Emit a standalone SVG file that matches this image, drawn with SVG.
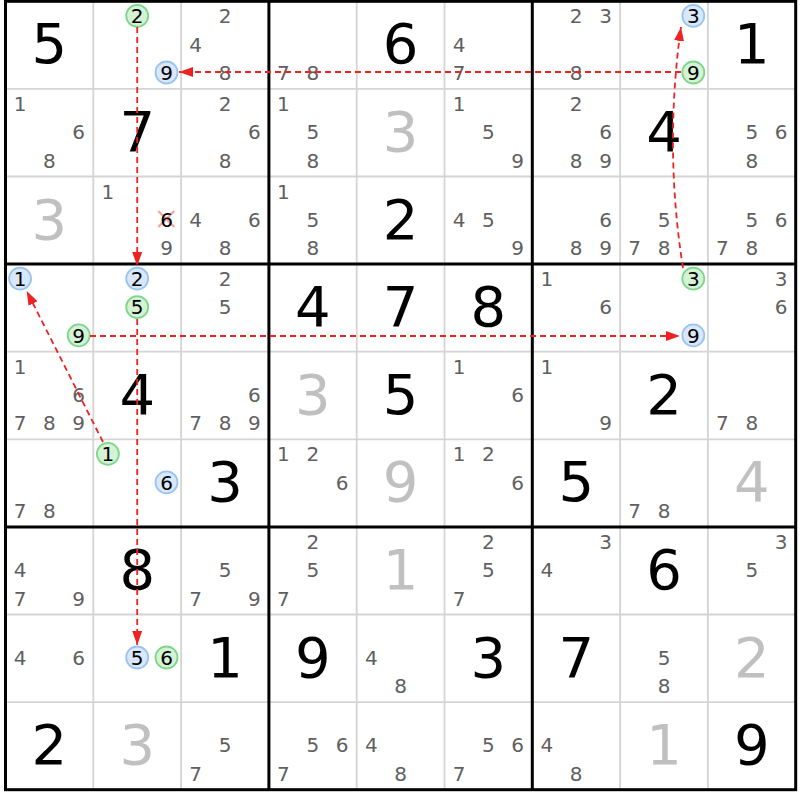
<svg xmlns="http://www.w3.org/2000/svg" width="800" height="800" viewBox="0 0 800 800">
<style>
text{font-family:"DejaVu Sans","Liberation Sans",sans-serif;text-anchor:middle}
.c{font-size:20px;fill:#606060}
.b{font-size:56px;fill:#000}
.s{font-size:56px;fill:#c0c0c0}
.h{font-size:20px;fill:#000}
.cb{fill:#d8e8fa;stroke:#99c4f0;stroke-width:1.8}
.cg{fill:#d4f2d6;stroke:#7fd68a;stroke-width:1.8}
.thin{stroke:#d4d4d4;stroke-width:1.8}
.thick{stroke:#000;stroke-width:3}
.lnk{fill:none;stroke:#ee2222;stroke-width:1.8;stroke-dasharray:6,4}
</style>
<defs>
<marker id="ah" markerUnits="userSpaceOnUse" markerWidth="14" markerHeight="10" refX="14" refY="5" orient="auto">
<path d="M0,0 L14,5 L0,10 z" fill="#ee2222"/>
</marker>
</defs>
<rect width="800" height="800" fill="#fff"/>
<g id="grid-thin">
<line class="thin" x1="93.3" y1="1.3" x2="93.3" y2="789.7"/>
<line class="thin" x1="181.1" y1="1.3" x2="181.1" y2="789.7"/>
<line class="thin" x1="356.7" y1="1.3" x2="356.7" y2="789.7"/>
<line class="thin" x1="444.5" y1="1.3" x2="444.5" y2="789.7"/>
<line class="thin" x1="620.1" y1="1.3" x2="620.1" y2="789.7"/>
<line class="thin" x1="707.9" y1="1.3" x2="707.9" y2="789.7"/>
<line class="thin" x1="5.5" y1="88.9" x2="795.7" y2="88.9"/>
<line class="thin" x1="5.5" y1="176.5" x2="795.7" y2="176.5"/>
<line class="thin" x1="5.5" y1="351.7" x2="795.7" y2="351.7"/>
<line class="thin" x1="5.5" y1="439.3" x2="795.7" y2="439.3"/>
<line class="thin" x1="5.5" y1="614.5" x2="795.7" y2="614.5"/>
<line class="thin" x1="5.5" y1="702.1" x2="795.7" y2="702.1"/>
</g>
<g id="grid-thick" fill="none">
<rect class="thick" x="5.5" y="1.3" width="790.2" height="788.4"/>
<line class="thick" x1="268.9" y1="1.3" x2="268.9" y2="789.7"/>
<line class="thick" x1="532.3" y1="1.3" x2="532.3" y2="789.7"/>
<line class="thick" x1="5.5" y1="264.1" x2="795.7" y2="264.1"/>
<line class="thick" x1="5.5" y1="526.9" x2="795.7" y2="526.9"/>
</g>

<!-- Row 0 -->
<g id="r0c0" transform="translate(5.5,1.3)"><text class="b" x="43.9" y="62">5</text></g>
<g id="r0c1" transform="translate(93.3,1.3)">
<circle class="cg" cx="43.9" cy="14.5" r="11"/><text class="h" x="43.9" y="21.8">2</text>
<circle class="cb" cx="73.2" cy="71.2" r="11"/><text class="h" x="73.2" y="78.5">9</text>
</g>
<g id="r0c2" transform="translate(181.1,1.3)"><text class="c" x="43.9" y="22">2</text><text class="c" x="14.6" y="50.3">4</text><text class="c" x="43.9" y="78.7">8</text></g>
<g id="r0c3" transform="translate(268.9,1.3)"><text class="c" x="14.6" y="78.7">7</text><text class="c" x="43.9" y="78.7">8</text></g>
<g id="r0c4" transform="translate(356.7,1.3)"><text class="b" x="43.9" y="62">6</text></g>
<g id="r0c5" transform="translate(444.5,1.3)"><text class="c" x="14.6" y="50.3">4</text><text class="c" x="14.6" y="78.7">7</text></g>
<g id="r0c6" transform="translate(532.3,1.3)"><text class="c" x="43.9" y="22">2</text><text class="c" x="73.2" y="22">3</text><text class="c" x="43.9" y="78.7">8</text></g>
<g id="r0c7" transform="translate(620.1,1.3)">
<circle class="cb" cx="73.2" cy="14.5" r="11"/><text class="h" x="73.2" y="21.8">3</text>
<circle class="cg" cx="73.2" cy="71.2" r="11"/><text class="h" x="73.2" y="78.5">9</text>
</g>
<g id="r0c8" transform="translate(707.9,1.3)"><text class="b" x="43.9" y="62">1</text></g>

<!-- Row 1 -->
<g id="r1c0" transform="translate(5.5,88.9)"><text class="c" x="14.6" y="22">1</text><text class="c" x="73.2" y="50.3">6</text><text class="c" x="43.9" y="78.7">8</text></g>
<g id="r1c1" transform="translate(93.3,88.9)"><text class="b" x="43.9" y="62">7</text></g>
<g id="r1c2" transform="translate(181.1,88.9)"><text class="c" x="43.9" y="22">2</text><text class="c" x="73.2" y="50.3">6</text><text class="c" x="43.9" y="78.7">8</text></g>
<g id="r1c3" transform="translate(268.9,88.9)"><text class="c" x="14.6" y="22">1</text><text class="c" x="43.9" y="50.3">5</text><text class="c" x="43.9" y="78.7">8</text></g>
<g id="r1c4" transform="translate(356.7,88.9)"><text class="s" x="43.9" y="62">3</text></g>
<g id="r1c5" transform="translate(444.5,88.9)"><text class="c" x="14.6" y="22">1</text><text class="c" x="43.9" y="50.3">5</text><text class="c" x="73.2" y="78.7">9</text></g>
<g id="r1c6" transform="translate(532.3,88.9)"><text class="c" x="43.9" y="22">2</text><text class="c" x="73.2" y="50.3">6</text><text class="c" x="43.9" y="78.7">8</text><text class="c" x="73.2" y="78.7">9</text></g>
<g id="r1c7" transform="translate(620.1,88.9)"><text class="b" x="43.9" y="62">4</text></g>
<g id="r1c8" transform="translate(707.9,88.9)"><text class="c" x="43.9" y="50.3">5</text><text class="c" x="73.2" y="50.3">6</text><text class="c" x="43.9" y="78.7">8</text></g>

<!-- Row 2 -->
<g id="r2c0" transform="translate(5.5,176.5)"><text class="s" x="43.9" y="62">3</text></g>
<g id="r2c1" transform="translate(93.3,176.5)">
<text class="c" x="14.6" y="22">1</text>
<path d="M65,34.5 L81,50.5 M81,34.5 L65,50.5" stroke="#f4a4a4" stroke-width="2.4" fill="none"/>
<text class="h" x="73.2" y="50.3">6</text>
<text class="c" x="73.2" y="78.7">9</text>
</g>
<g id="r2c2" transform="translate(181.1,176.5)"><text class="c" x="14.6" y="50.3">4</text><text class="c" x="73.2" y="50.3">6</text><text class="c" x="43.9" y="78.7">8</text></g>
<g id="r2c3" transform="translate(268.9,176.5)"><text class="c" x="14.6" y="22">1</text><text class="c" x="43.9" y="50.3">5</text><text class="c" x="43.9" y="78.7">8</text></g>
<g id="r2c4" transform="translate(356.7,176.5)"><text class="b" x="43.9" y="62">2</text></g>
<g id="r2c5" transform="translate(444.5,176.5)"><text class="c" x="14.6" y="50.3">4</text><text class="c" x="43.9" y="50.3">5</text><text class="c" x="73.2" y="78.7">9</text></g>
<g id="r2c6" transform="translate(532.3,176.5)"><text class="c" x="73.2" y="50.3">6</text><text class="c" x="43.9" y="78.7">8</text><text class="c" x="73.2" y="78.7">9</text></g>
<g id="r2c7" transform="translate(620.1,176.5)"><text class="c" x="43.9" y="50.3">5</text><text class="c" x="14.6" y="78.7">7</text><text class="c" x="43.9" y="78.7">8</text></g>
<g id="r2c8" transform="translate(707.9,176.5)"><text class="c" x="43.9" y="50.3">5</text><text class="c" x="73.2" y="50.3">6</text><text class="c" x="14.6" y="78.7">7</text><text class="c" x="43.9" y="78.7">8</text></g>

<!-- Row 3 -->
<g id="r3c0" transform="translate(5.5,264.1)">
<circle class="cb" cx="14.6" cy="14.5" r="11"/><text class="h" x="14.6" y="21.8">1</text>
<circle class="cg" cx="73.2" cy="71.2" r="11"/><text class="h" x="73.2" y="78.5">9</text>
</g>
<g id="r3c1" transform="translate(93.3,264.1)">
<circle class="cb" cx="43.9" cy="14.5" r="11"/><text class="h" x="43.9" y="21.8">2</text>
<circle class="cg" cx="43.9" cy="43" r="11"/><text class="h" x="43.9" y="50.3">5</text>
</g>
<g id="r3c2" transform="translate(181.1,264.1)"><text class="c" x="43.9" y="22">2</text><text class="c" x="43.9" y="50.3">5</text></g>
<g id="r3c3" transform="translate(268.9,264.1)"><text class="b" x="43.9" y="62">4</text></g>
<g id="r3c4" transform="translate(356.7,264.1)"><text class="b" x="43.9" y="62">7</text></g>
<g id="r3c5" transform="translate(444.5,264.1)"><text class="b" x="43.9" y="62">8</text></g>
<g id="r3c6" transform="translate(532.3,264.1)"><text class="c" x="14.6" y="22">1</text><text class="c" x="73.2" y="50.3">6</text></g>
<g id="r3c7" transform="translate(620.1,264.1)">
<circle class="cg" cx="73.2" cy="14.5" r="11"/><text class="h" x="73.2" y="21.8">3</text>
<circle class="cb" cx="73.2" cy="71.2" r="11"/><text class="h" x="73.2" y="78.5">9</text>
</g>
<g id="r3c8" transform="translate(707.9,264.1)"><text class="c" x="73.2" y="22">3</text><text class="c" x="73.2" y="50.3">6</text></g>

<!-- Row 4 -->
<g id="r4c0" transform="translate(5.5,351.7)"><text class="c" x="14.6" y="22">1</text><text class="c" x="73.2" y="50.3">6</text><text class="c" x="14.6" y="78.7">7</text><text class="c" x="43.9" y="78.7">8</text><text class="c" x="73.2" y="78.7">9</text></g>
<g id="r4c1" transform="translate(93.3,351.7)"><text class="b" x="43.9" y="62">4</text></g>
<g id="r4c2" transform="translate(181.1,351.7)"><text class="c" x="73.2" y="50.3">6</text><text class="c" x="14.6" y="78.7">7</text><text class="c" x="43.9" y="78.7">8</text><text class="c" x="73.2" y="78.7">9</text></g>
<g id="r4c3" transform="translate(268.9,351.7)"><text class="s" x="43.9" y="62">3</text></g>
<g id="r4c4" transform="translate(356.7,351.7)"><text class="b" x="43.9" y="62">5</text></g>
<g id="r4c5" transform="translate(444.5,351.7)"><text class="c" x="14.6" y="22">1</text><text class="c" x="73.2" y="50.3">6</text></g>
<g id="r4c6" transform="translate(532.3,351.7)"><text class="c" x="14.6" y="22">1</text><text class="c" x="73.2" y="78.7">9</text></g>
<g id="r4c7" transform="translate(620.1,351.7)"><text class="b" x="43.9" y="62">2</text></g>
<g id="r4c8" transform="translate(707.9,351.7)"><text class="c" x="14.6" y="78.7">7</text><text class="c" x="43.9" y="78.7">8</text></g>

<!-- Row 5 -->
<g id="r5c0" transform="translate(5.5,439.3)"><text class="c" x="14.6" y="78.7">7</text><text class="c" x="43.9" y="78.7">8</text></g>
<g id="r5c1" transform="translate(93.3,439.3)">
<circle class="cg" cx="14.6" cy="14.5" r="11"/><text class="h" x="14.6" y="21.8">1</text>
<circle class="cb" cx="73.2" cy="43" r="11"/><text class="h" x="73.2" y="50.3">6</text>
</g>
<g id="r5c2" transform="translate(181.1,439.3)"><text class="b" x="43.9" y="62">3</text></g>
<g id="r5c3" transform="translate(268.9,439.3)"><text class="c" x="14.6" y="22">1</text><text class="c" x="43.9" y="22">2</text><text class="c" x="73.2" y="50.3">6</text></g>
<g id="r5c4" transform="translate(356.7,439.3)"><text class="s" x="43.9" y="62">9</text></g>
<g id="r5c5" transform="translate(444.5,439.3)"><text class="c" x="14.6" y="22">1</text><text class="c" x="43.9" y="22">2</text><text class="c" x="73.2" y="50.3">6</text></g>
<g id="r5c6" transform="translate(532.3,439.3)"><text class="b" x="43.9" y="62">5</text></g>
<g id="r5c7" transform="translate(620.1,439.3)"><text class="c" x="14.6" y="78.7">7</text><text class="c" x="43.9" y="78.7">8</text></g>
<g id="r5c8" transform="translate(707.9,439.3)"><text class="s" x="43.9" y="62">4</text></g>

<!-- Row 6 -->
<g id="r6c0" transform="translate(5.5,526.9)"><text class="c" x="14.6" y="50.3">4</text><text class="c" x="14.6" y="78.7">7</text><text class="c" x="73.2" y="78.7">9</text></g>
<g id="r6c1" transform="translate(93.3,526.9)"><text class="b" x="43.9" y="62">8</text></g>
<g id="r6c2" transform="translate(181.1,526.9)"><text class="c" x="43.9" y="50.3">5</text><text class="c" x="14.6" y="78.7">7</text><text class="c" x="73.2" y="78.7">9</text></g>
<g id="r6c3" transform="translate(268.9,526.9)"><text class="c" x="43.9" y="22">2</text><text class="c" x="43.9" y="50.3">5</text><text class="c" x="14.6" y="78.7">7</text></g>
<g id="r6c4" transform="translate(356.7,526.9)"><text class="s" x="43.9" y="62">1</text></g>
<g id="r6c5" transform="translate(444.5,526.9)"><text class="c" x="43.9" y="22">2</text><text class="c" x="43.9" y="50.3">5</text><text class="c" x="14.6" y="78.7">7</text></g>
<g id="r6c6" transform="translate(532.3,526.9)"><text class="c" x="73.2" y="22">3</text><text class="c" x="14.6" y="50.3">4</text></g>
<g id="r6c7" transform="translate(620.1,526.9)"><text class="b" x="43.9" y="62">6</text></g>
<g id="r6c8" transform="translate(707.9,526.9)"><text class="c" x="73.2" y="22">3</text><text class="c" x="43.9" y="50.3">5</text></g>

<!-- Row 7 -->
<g id="r7c0" transform="translate(5.5,614.5)"><text class="c" x="14.6" y="50.3">4</text><text class="c" x="73.2" y="50.3">6</text></g>
<g id="r7c1" transform="translate(93.3,614.5)">
<circle class="cb" cx="43.9" cy="43" r="11"/><text class="h" x="43.9" y="50.3">5</text>
<circle class="cg" cx="73.2" cy="43" r="11"/><text class="h" x="73.2" y="50.3">6</text>
</g>
<g id="r7c2" transform="translate(181.1,614.5)"><text class="b" x="43.9" y="62">1</text></g>
<g id="r7c3" transform="translate(268.9,614.5)"><text class="b" x="43.9" y="62">9</text></g>
<g id="r7c4" transform="translate(356.7,614.5)"><text class="c" x="14.6" y="50.3">4</text><text class="c" x="43.9" y="78.7">8</text></g>
<g id="r7c5" transform="translate(444.5,614.5)"><text class="b" x="43.9" y="62">3</text></g>
<g id="r7c6" transform="translate(532.3,614.5)"><text class="b" x="43.9" y="62">7</text></g>
<g id="r7c7" transform="translate(620.1,614.5)"><text class="c" x="43.9" y="50.3">5</text><text class="c" x="43.9" y="78.7">8</text></g>
<g id="r7c8" transform="translate(707.9,614.5)"><text class="s" x="43.9" y="62">2</text></g>

<!-- Row 8 -->
<g id="r8c0" transform="translate(5.5,702.1)"><text class="b" x="43.9" y="62">2</text></g>
<g id="r8c1" transform="translate(93.3,702.1)"><text class="s" x="43.9" y="62">3</text></g>
<g id="r8c2" transform="translate(181.1,702.1)"><text class="c" x="43.9" y="50.3">5</text><text class="c" x="14.6" y="78.7">7</text></g>
<g id="r8c3" transform="translate(268.9,702.1)"><text class="c" x="43.9" y="50.3">5</text><text class="c" x="73.2" y="50.3">6</text><text class="c" x="14.6" y="78.7">7</text></g>
<g id="r8c4" transform="translate(356.7,702.1)"><text class="c" x="14.6" y="50.3">4</text><text class="c" x="43.9" y="78.7">8</text></g>
<g id="r8c5" transform="translate(444.5,702.1)"><text class="c" x="43.9" y="50.3">5</text><text class="c" x="73.2" y="50.3">6</text><text class="c" x="14.6" y="78.7">7</text></g>
<g id="r8c6" transform="translate(532.3,702.1)"><text class="c" x="14.6" y="50.3">4</text><text class="c" x="43.9" y="78.7">8</text></g>
<g id="r8c7" transform="translate(620.1,702.1)"><text class="s" x="43.9" y="62">1</text></g>
<g id="r8c8" transform="translate(707.9,702.1)"><text class="b" x="43.9" y="62">9</text></g>

<g id="connectors">
<path class="lnk" d="M681,72 L179,72" marker-end="url(#ah)"/>
<path class="lnk" d="M137.2,27 L137.2,266" marker-end="url(#ah)"/>
<path class="lnk" d="M683,268 Q664,148 681,27" marker-end="url(#ah)"/>
<path class="lnk" d="M90,336 L680,336" marker-end="url(#ah)"/>
<path class="lnk" d="M103,442 L26.7,291" marker-end="url(#ah)"/>
<path class="lnk" d="M137.2,319 L137.2,645" marker-end="url(#ah)"/>
</g>
</svg>
